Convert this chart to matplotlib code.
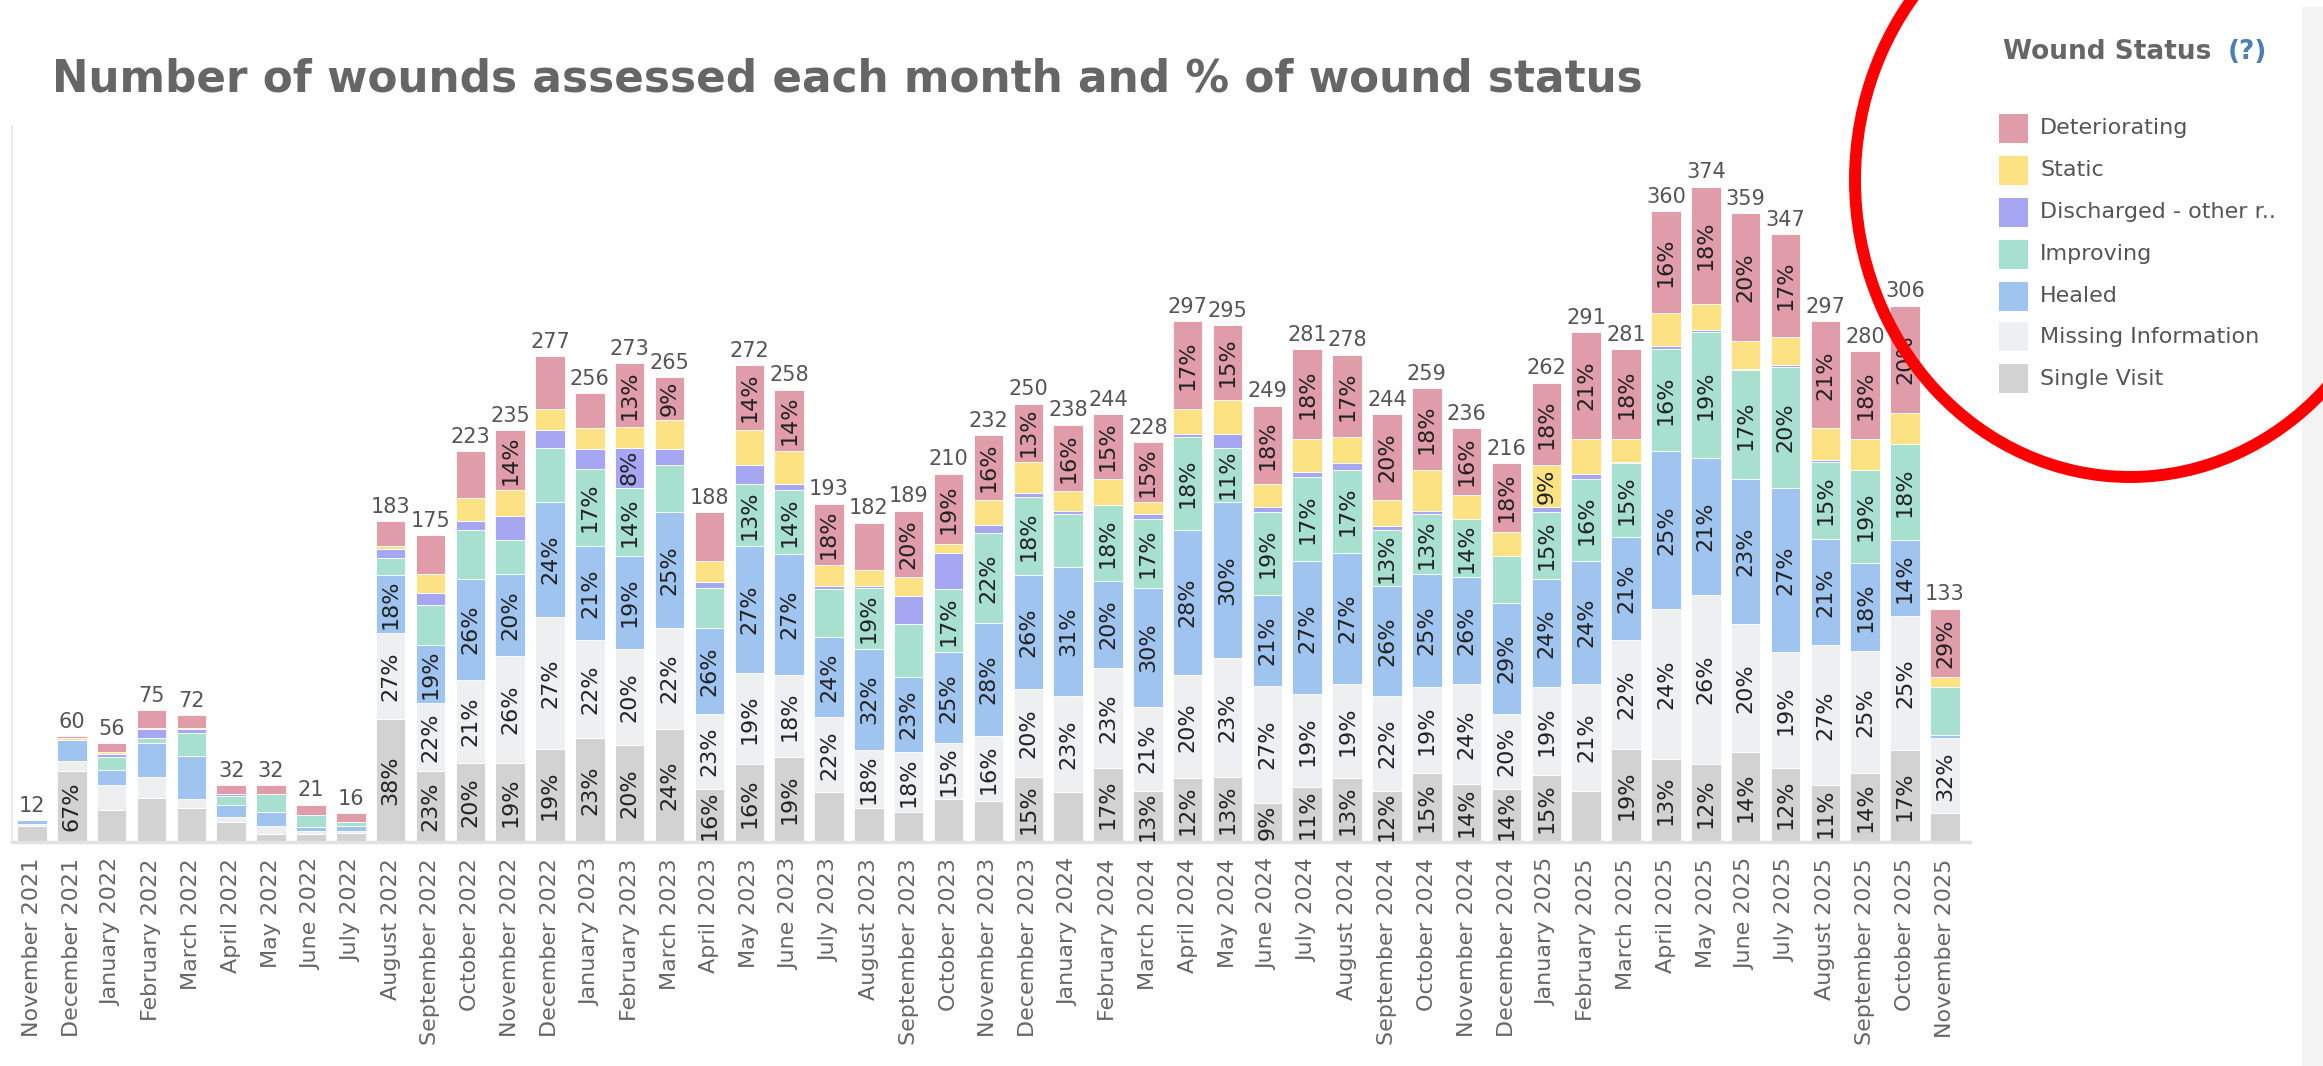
import matplotlib
matplotlib.use("Agg")
import matplotlib.pyplot as plt
from matplotlib.patches import Rectangle, Ellipse

months = ["November 2021", "December 2021", "January 2022", "February 2022", "March 2022",
          "April 2022", "May 2022", "June 2022", "July 2022", "August 2022", "September 2022",
          "October 2022", "November 2022", "December 2022", "January 2023", "February 2023",
          "March 2023", "April 2023", "May 2023", "June 2023", "July 2023", "August 2023",
          "September 2023", "October 2023", "November 2023", "December 2023", "January 2024",
          "February 2024", "March 2024", "April 2024", "May 2024", "June 2024", "July 2024",
          "August 2024", "September 2024", "October 2024", "November 2024", "December 2024",
          "January 2025", "February 2025", "March 2025", "April 2025", "May 2025", "June 2025",
          "July 2025", "August 2025", "September 2025", "October 2025", "November 2025"]

single_visit = [9, 40, 18, 25, 19, 11, 4, 4, 5, 70, 40, 45, 45, 53, 59, 55, 64, 30, 44, 48, 28, 19, 17, 24, 23,
                37, 28, 42, 29, 36, 37, 22, 31, 36, 29, 39, 33, 30, 38, 29, 53, 47, 44, 51, 42, 32, 39, 52, 16]
missing_info = [1, 6, 14, 12, 5, 3, 5, 2, 1, 49, 39, 47, 61, 75, 56, 55, 58, 43, 52, 47, 43, 33, 34, 32, 37,
                50, 55, 57, 48, 59, 68, 67, 53, 54, 54, 49, 57, 43, 50, 61, 62, 86, 97, 73, 66, 80, 70, 77, 43]
healed = [2, 12, 9, 19, 25, 7, 8, 2, 3, 33, 33, 58, 47, 66, 54, 53, 66, 49, 73, 69, 46, 58, 43, 52, 65,
          65, 74, 50, 68, 83, 89, 52, 76, 75, 63, 65, 61, 63, 62, 70, 59, 90, 78, 83, 94, 61, 50, 43, 2]
improving = [0, 0, 7, 3, 13, 5, 10, 7, 2, 10, 23, 28, 19, 31, 44, 39, 27, 23, 35, 37, 27, 35, 30, 36, 51,
             45, 30, 43, 39, 53, 31, 47, 48, 47, 32, 34, 33, 27, 38, 47, 42, 58, 72, 62, 69, 44, 53, 55, 27]
discharged = [0, 0, 2, 5, 2, 1, 0, 0, 0, 5, 7, 5, 14, 10, 11, 23, 9, 3, 11, 3, 2, 1, 16, 21, 5,
              2, 2, 0, 3, 2, 8, 3, 3, 4, 2, 2, 0, 0, 3, 3, 1, 2, 1, 1, 1, 1, 0, 0, 0]
static = [0, 1, 1, 1, 1, 0, 0, 0, 0, 2, 11, 13, 15, 12, 12, 12, 17, 12, 20, 19, 12, 9, 11, 5, 14,
          18, 11, 15, 7, 14, 19, 13, 19, 15, 15, 23, 14, 14, 24, 20, 13, 19, 15, 16, 16, 18, 18, 18, 6]
deteriorating = [0, 1, 5, 10, 7, 5, 5, 6, 5, 14, 22, 27, 34, 30, 20, 36, 24, 28, 37, 35, 35, 27, 38, 40, 37,
                 33, 38, 37, 34, 50, 43, 45, 51, 47, 49, 47, 38, 39, 47, 61, 51, 58, 67, 73, 59, 61, 50, 61, 39]

# which segments carry a % label (S=single, M=missing, H=healed, I=improving, D=discharged, T=static, X=deteriorating)
pct_labels = ["", "S", "", "", "", "", "", "", "",
              "SMH", "SMH", "SMH", "SMHX", "SMH", "SMHI", "SMHIDX", "SMHX", "SMH", "SMHIX", "SMHIX",
              "MHX", "MHI", "MHX", "MHIX", "MHIX", "SMHIX", "MHX", "SMHIX", "SMHIX",
              "SMHIX", "SMHIX", "SMHIX", "SMHIX", "SMHIX", "SMHIX", "SMHIX", "SMHIX",
              "SMHX", "SMHITX", "MHIX",
              "SMHIX", "SMHIX", "SMHIX", "SMHIX", "SMHIX", "SMHIX", "SMHIX", "SMHIX", "MX"]

series_names = ["Single Visit", "Missing Information", "Healed", "Improving",
                "Discharged - other r..", "Static", "Deteriorating"]
series_vals = [single_visit, missing_info, healed, improving, discharged, static, deteriorating]
series_codes = ["S", "M", "H", "I", "D", "T", "X"]
colors = ["#d2d2d2", "#eeeff1", "#a0c4f0", "#a7e0cf", "#a7a6f2", "#fde283", "#e19ca9"]

W, H = 2323, 1066
fig = plt.figure(figsize=(W / 100, H / 100), dpi=100)
fig.patch.set_facecolor("white")

base_px = 841.5
top_px = 126
left_px, right_px = 12, 1970
ax = fig.add_axes([left_px / W, (H - base_px) / H, (right_px - left_px) / W, (base_px - top_px) / H])
ax.set_facecolor("white")

n = len(months)
x = list(range(n))
totals = [sum(s[i] for s in series_vals) for i in range(n)]
bottoms = [0] * n
for vals, col, code in zip(series_vals, colors, series_codes):
    ax.bar(x, vals, bottom=bottoms, width=0.74, color=col, edgecolor="white", linewidth=0.6, zorder=2)
    for i in range(n):
        if code in pct_labels[i] and vals[i] > 0:
            pct = int(100 * vals[i] / totals[i] + 0.5)
            ax.text(i, bottoms[i] + vals[i] / 2, f"{pct}%", rotation=90, ha="center", va="center",
                    fontsize=16, color="#222222", zorder=3)
    bottoms = [b + v for b, v in zip(bottoms, vals)]

for i in range(n):
    ax.text(i, totals[i] + 2.5, str(totals[i]), ha="center", va="bottom", fontsize=15,
            color="#555555", zorder=3)

ax.set_xlim(-0.5, 48.63)
ax.set_ylim(0, (base_px - top_px) / 1.751)
ax.set_xticks(x)
ax.set_xticklabels(months, rotation=90, fontsize=16, color="#666666")
ax.tick_params(axis="x", length=0, pad=12)
ax.set_yticks([])
for s in ["top", "right"]:
    ax.spines[s].set_visible(False)
ax.spines["left"].set_color("#ececec")
ax.spines["left"].set_linewidth(1.5)
ax.spines["bottom"].set_color("#e2e2e2")
ax.spines["bottom"].set_linewidth(2.5)

# title
fig.text(52 / W, 1 - 79 / H, "Number of wounds assessed each month and % of wound status",
         fontsize=31.5, fontweight="bold", color="#666666", ha="left", va="center")

# right grey panel stripe
fig.add_artist(Rectangle((2302 / W, 0), 21 / W, 1 - 7 / H, transform=fig.transFigure,
                         facecolor="#f3f3f3", edgecolor="none", zorder=0))

# legend
fig.text(2003 / W, 1 - 52 / H, "Wound Status", fontsize=19, fontweight="bold",
         color="#666666", ha="left", va="center")
fig.text(2228 / W, 1 - 52 / H, "(?)", fontsize=19, fontweight="bold",
         color="#4d7fb5", ha="left", va="center")
row_y = [128, 170, 212, 254, 296, 337, 379]
for k, yy in enumerate(row_y):
    idx = len(series_names) - 1 - k
    fig.add_artist(Rectangle((1999 / W, 1 - (yy + 14.5) / H), 29 / W, 29 / H, transform=fig.transFigure,
                             facecolor=colors[idx], edgecolor="none"))
    fig.text(2040 / W, 1 - yy / H, series_names[idx], fontsize=16, color="#555555",
             ha="left", va="center")

# red highlight circle
fig.add_artist(Ellipse((2130 / W, 1 - 180 / H), 2 * 275 / W, 2 * 297 / H, transform=fig.transFigure,
                       facecolor="none", edgecolor="#ff0000", linewidth=8.6, zorder=10))

fig.savefig("out.png", dpi=100, facecolor="white")
